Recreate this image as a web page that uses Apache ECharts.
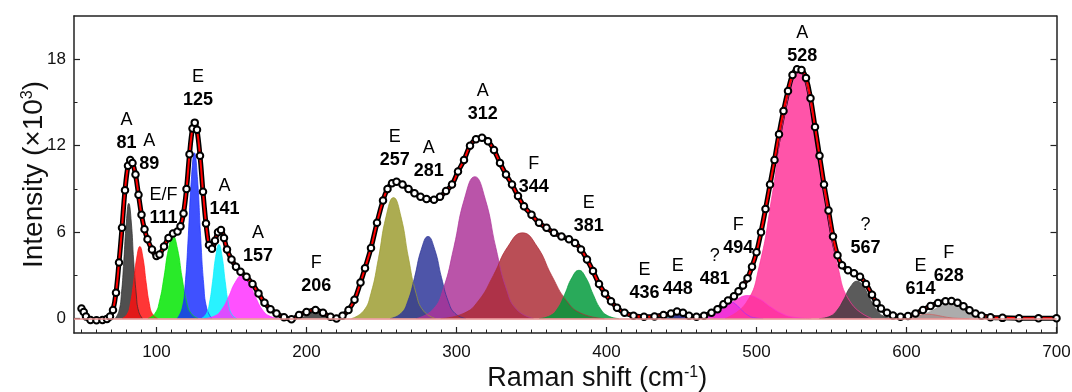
<!DOCTYPE html>
<html>
<head>
<meta charset="utf-8">
<title>Raman spectrum</title>
<script src="https://cdn.jsdelivr.net/npm/echarts@6/dist/echarts.min.js"></script>
<style>
  html, body { margin: 0; padding: 0; background: #fff; }
  #chart { width: 1072px; height: 392px; }
</style>
</head>
<body>
<div id="chart"></div>
<script>
// measured spectrum: [Raman shift (cm-1), intensity (x10^3)]
const measured = [
  [50, 0.7], [51.5, 0.45], [53, 0.15], [56, -0.1], [60, -0.12], [64, -0.1], [67, -0.02], [69, 0.15],
  [71, 0.6], [73, 1.8], [75, 3.9], [77, 6.3], [79, 8.9], [81, 10.6], [82.5, 11.0], [84, 10.8],
  [86, 10.0], [88, 8.6], [90, 7.2], [92, 6.2], [94, 5.5], [97, 4.8], [100, 4.35], [102, 4.45],
  [105, 5.0], [108, 5.6], [111, 5.9], [114, 6.05], [116, 6.4], [118, 7.3], [120, 9.0], [122, 11.4],
  [124, 13.2], [125.5, 13.6], [127, 13.1], [129, 11.3], [131, 8.8], [133, 6.6], [135, 5.1], [137, 4.85],
  [139, 5.4], [141, 6.0], [143, 6.15], [145, 5.6], [147, 4.8], [150, 4.1], [153, 3.6], [156, 3.25],
  [160, 2.9], [164, 2.4], [168, 1.75], [172, 1.1], [176, 0.65], [180, 0.35], [185, 0.1], [190, -0.05],
  [195, 0.25], [200, 0.45], [206, 0.6], [211, 0.4], [216, 0.12], [220, 0.0], [224, 0.2], [228, 0.6],
  [232, 1.3], [236, 2.5], [239, 3.5], [243, 4.9], [247, 6.65], [251, 8.2], [254, 9.0], [257, 9.4],
  [260, 9.5], [264, 9.3], [268, 9.0], [272, 8.7], [276, 8.45], [280, 8.3], [285, 8.25], [289, 8.45],
  [293, 8.85], [297, 9.3], [301, 10.2], [305, 11.0], [309, 12.0], [313, 12.45], [317, 12.55], [321, 12.3],
  [325, 11.7], [329, 10.8], [333, 10.0], [337, 9.3], [341, 8.5], [345, 7.8], [350, 7.2], [355, 6.65],
  [360, 6.3], [365, 5.95], [370, 5.7], [375, 5.5], [379, 5.25], [383, 4.8], [387, 4.1], [391, 3.3],
  [395, 2.4], [399, 1.75], [403, 1.2], [407, 0.75], [412, 0.4], [418, 0.2], [425, 0.12], [432, 0.15],
  [438, 0.25], [443, 0.35], [447, 0.5], [451, 0.4], [455, 0.2], [460, 0.12], [465, 0.2], [470, 0.4],
  [474, 0.65], [478, 1.0], [481, 1.25], [485, 1.55], [488, 1.9], [491, 2.3], [494, 2.8], [497, 3.6],
  [500, 4.6], [503, 6.0], [506, 7.6], [509, 9.3], [512, 11.0], [515, 12.8], [518, 14.4], [521, 15.8],
  [524, 16.9], [527, 17.3], [530, 17.25], [533, 16.7], [536, 15.3], [539, 13.3], [542, 11.3], [545, 9.3],
  [548, 7.5], [551, 5.7], [554, 4.4], [557, 3.7], [561, 3.35], [565, 3.15], [569, 2.9], [573, 2.4],
  [577, 1.65], [580, 1.1], [583, 0.7], [587, 0.4], [591, 0.22], [596, 0.12], [601, 0.18], [606, 0.35],
  [611, 0.6], [616, 0.88], [621, 1.08], [626, 1.2], [630, 1.22], [634, 1.1], [638, 0.85], [642, 0.58],
  [646, 0.35], [650, 0.2], [656, 0.1], [664, 0.05], [675, 0.03], [688, 0.03], [700, 0.03]
];

// fitted bands
const bandShift = [81, 89, 111, 125, 141, 157, 206, 257, 281, 312, 344, 381, 436, 448, 481, 494, 528, 567, 614, 628];
const bandMode = ['A', 'A', 'E/F', 'E', 'A', 'A', 'F', 'E', 'A', 'A', 'F', 'E', 'E', 'E', '?', 'F', 'A', '?', 'E', 'F'];
// where each band's number label sits, in axis units
const labelAt = [
  [80, 12.2], [95.2, 10.7], [104.7, 7.0], [127.7, 15.2], [145.3, 7.57], [167.7, 4.31], [206.5, 2.24],
  [258.9, 11.03], [281.5, 10.27], [317.5, 14.22], [351.5, 9.14], [388.2, 6.41], [425.3, 1.8], [447.5, 2.03],
  [472.2, 2.77], [487.8, 4.92], [530.5, 18.19], [572.7, 4.87], [609.3, 2.03], [628.2, 2.95]
];
// band profiles
const bandProfiles = [
  [[72.3, 0], [74.9, 0.5], [76.6, 1.7], [78.2, 4.0], [79.9, 6.7], [81.5, 8.0], [83.2, 6.7], [84.8, 4.0], [86.5, 1.7], [88.1, 0.5], [90.7, 0]],
  [[77.1, 0], [80.5, 0.31], [82.6, 1.05], [84.7, 2.5], [86.8, 4.2], [88.9, 5.0], [91.0, 4.2], [93.1, 2.5], [95.2, 1.05], [97.3, 0.31], [100.7, 0]],
  [[94.2, 0], [99, 0.36], [102, 1.21], [105, 2.88], [108, 4.84], [111, 5.75], [114, 4.84], [117, 2.88], [120, 1.21], [123, 0.36], [127.8, 0]],
  [[113.8, 0], [117.1, 0.72], [119.15, 2.42], [121.2, 5.75], [123.25, 9.67], [125.3, 11.5], [127.35, 9.67], [129.4, 5.75], [131.45, 2.42], [133.5, 0.72], [136.8, 0]],
  [[129.8, 0], [133.2, 0.32], [135.3, 1.08], [137.4, 2.58], [139.5, 4.33], [141.6, 5.15], [143.7, 4.33], [145.8, 2.58], [147.9, 1.08], [150, 0.32], [153.4, 0]],
  [[131.8, 0], [139, 0.19], [143.5, 0.63], [148, 1.5], [152.5, 2.52], [157, 3.0], [161.5, 2.52], [166, 1.5], [170.5, 0.63], [175, 0.19], [182.2, 0]],
  [[189.2, 0], [194, 0.03], [197, 0.09], [200, 0.22], [203, 0.38], [206, 0.45], [209, 0.38], [212, 0.22], [215, 0.09], [218, 0.03], [222.8, 0]],
  [[230, 0], [238, 0.53], [243, 1.76], [248, 4.2], [253, 7.06], [258, 8.4], [263, 7.06], [268, 4.2], [273, 1.76], [278, 0.53], [286, 0]],
  [[255.8, 0], [263, 0.36], [267.5, 1.2], [272, 2.85], [276.5, 4.79], [281, 5.7], [285.5, 4.79], [290, 2.85], [294.5, 1.2], [299, 0.36], [306.2, 0]],
  [[273, 0], [284.2, 0.62], [291.2, 2.07], [298.2, 4.93], [305.2, 8.28], [312.2, 9.85], [319.2, 8.28], [326.2, 4.93], [333.2, 2.07], [340.2, 0.62], [351.4, 0]],
  [[289.4, 0], [305, 0.37], [314.75, 1.25], [324.5, 2.98], [334.25, 5.0], [344, 5.95], [353.75, 5.0], [363.5, 2.98], [373.25, 1.25], [383, 0.37], [398.6, 0]],
  [[355, 0], [362.6, 0.21], [367.35, 0.7], [372.1, 1.68], [376.85, 2.82], [381.6, 3.35], [386.35, 2.82], [391.1, 1.68], [395.85, 0.7], [400.6, 0.21], [408.2, 0]],
  [[419.2, 0], [424, 0.01], [427, 0.03], [430, 0.06], [433, 0.1], [436, 0.12], [439, 0.1], [442, 0.06], [445, 0.03], [448, 0.01], [452.8, 0]],
  [[436.8, 0], [440, 0.02], [442, 0.06], [444, 0.15], [446, 0.25], [448, 0.3], [450, 0.25], [452, 0.15], [454, 0.06], [456, 0.02], [459.2, 0]],
  [[459.6, 0], [466, 0.07], [470, 0.25], [474, 0.6], [478, 1.0], [482, 1.2], [486, 1.0], [490, 0.6], [494, 0.25], [498, 0.07], [504.4, 0]],
  [[452.5, 0], [464.5, 0.1], [472, 0.34], [479.5, 0.8], [487, 1.35], [494.5, 1.6], [502, 1.35], [509.5, 0.8], [517, 0.34], [524.5, 0.1], [536.5, 0]],
  [[479, 0], [493, 1.08], [501.75, 3.61], [510.5, 8.6], [519.25, 14.47], [528, 17.2], [536.75, 14.47], [545.5, 8.6], [554.25, 3.61], [563, 1.08], [577, 0]],
  [[541.8, 0], [549, 0.16], [553.5, 0.55], [558, 1.3], [562.5, 2.19], [567, 2.6], [571.5, 2.19], [576, 1.3], [580.5, 0.55], [585, 0.16], [592.2, 0]],
  [[586, 0], [594, 0.02], [599, 0.06], [604, 0.15], [609, 0.25], [614, 0.3], [619, 0.25], [624, 0.15], [629, 0.06], [634, 0.02], [642, 0]],
  [[592.6, 0], [603, 0.06], [609.5, 0.21], [616, 0.5], [622.5, 0.84], [629, 1.0], [635.5, 0.84], [642, 0.5], [648.5, 0.21], [655, 0.06], [665.4, 0]]
];

const xMajor = [100, 200, 300, 400, 500, 600, 700];
const yMajor = [0, 6, 12, 18];
const yMinor = [3, 9, 15];
const xMinor = [];
for (let v = 50; v < 700; v += 10) {
  if (v % 100 !== 0) xMinor.push(v);
}

const bandColors = [
  '#2e2e2e', '#ff1010', '#00e600', '#1a30ff', '#00f0ff', '#ff30ff', '#333333', '#9c9c30', '#2c3498', '#ad3399',
  '#ad2c36', '#009a3a', '#006060', '#10107a', '#9a30ff', '#ff30d0', '#ff3399', '#3c3c3c', '#d05a5a', '#9c9c9c'
];
const font = 'Liberation Sans, Arial, sans-serif';
const axisColor = '#222';

const chart = echarts.init(document.getElementById('chart'));

const frame = (extra) => Object.assign({
  type: 'value',
  axisLine: { show: false, onZero: false },
  axisTick: { show: false },
  axisLabel: { show: false },
  splitLine: { show: false }
}, extra);

const bandSeries = bandProfiles.map((pts, i) => ({
  name: 'band ' + bandShift[i],
  type: 'line',
  data: pts,
  smooth: 0.5,
  symbol: 'none',
  silent: true,
  lineStyle: { color: bandColors[i], width: 0.8, opacity: 0.9 },
  areaStyle: { color: bandColors[i], opacity: 0.84 }
}));

const supStyle = { fontSize: 16, verticalAlign: 'top', padding: [0, 0, 12, 0], fontFamily: font, color: '#111' };

chart.setOption({
  animation: false,
  grid: { left: 74, right: 15.5, top: 16, bottom: 59, outerBoundsMode: 'none' },
  xAxis: [
    frame({
      min: 45, max: 700, position: 'bottom',
      axisLine: { show: true, onZero: false, lineStyle: { color: axisColor, width: 1.5 } },
      axisTick: { show: true, inside: true, length: 6, customValues: xMajor, lineStyle: { color: axisColor, width: 1.2 } },
      axisLabel: { show: true, customValues: xMajor, fontSize: 17, color: '#111', margin: 11, fontFamily: font },
      name: 'Raman shift (cm{sup|-1})',
      nameLocation: 'middle',
      nameGap: 32,
      nameMoveOverlap: false,
      nameTextStyle: {
        fontSize: 27, color: '#111', fontFamily: font, padding: [0, 0, 0, 64],
        rich: { sup: supStyle }
      }
    }),
    frame({
      min: 45, max: 700, position: 'bottom',
      axisTick: { show: true, inside: true, length: 3.5, customValues: xMinor, lineStyle: { color: axisColor, width: 1 } }
    }),
    frame({
      min: 45, max: 700, position: 'top',
      axisLine: { show: true, onZero: false, lineStyle: { color: axisColor, width: 1.5 } }
    })
  ],
  yAxis: [
    frame({
      min: -1, max: 21, position: 'left',
      axisLine: { show: true, onZero: false, lineStyle: { color: axisColor, width: 1.5 } },
      axisTick: { show: true, inside: true, length: 6, customValues: yMajor, lineStyle: { color: axisColor, width: 1.2 } },
      axisLabel: { show: true, customValues: yMajor, fontSize: 17, color: '#111', margin: 8, fontFamily: font },
      name: 'Intensity (\u00d710{sup|3})',
      nameLocation: 'middle',
      nameGap: 26,
      nameMoveOverlap: false,
      nameTextStyle: {
        fontSize: 28, color: '#111', fontFamily: font,
        rich: { sup: supStyle }
      }
    }),
    frame({
      min: -1, max: 21, position: 'left',
      axisTick: { show: true, inside: true, length: 3.5, customValues: yMinor, lineStyle: { color: axisColor, width: 1 } }
    }),
    frame({
      min: -1, max: 21, position: 'right',
      axisLine: { show: true, onZero: false, lineStyle: { color: axisColor, width: 1.5 } },
      axisTick: { show: true, inside: true, length: 6, customValues: yMajor, lineStyle: { color: axisColor, width: 1.2 } }
    }),
    frame({
      min: -1, max: 21, position: 'right',
      axisTick: { show: true, inside: true, length: 3.5, customValues: yMinor, lineStyle: { color: axisColor, width: 1 } }
    })
  ],
  series: [
    {
      name: 'measured',
      type: 'line',
      data: measured,
      smooth: 0.4,
      symbol: 'emptyCircle',
      symbolSize: 6.5,
      showAllSymbol: true,
      silent: true,
      lineStyle: { color: '#000', width: 5 },
      itemStyle: { color: '#000', borderWidth: 1.6 }
    },
    ...bandSeries,
    {
      name: 'fit',
      type: 'line',
      data: measured,
      smooth: 0.4,
      symbol: 'none',
      silent: true,
      lineStyle: { color: '#ff0000', width: 2 },
      markLine: {
        silent: true,
        symbol: ['none', 'none'],
        label: { show: false },
        lineStyle: { color: '#e89090', width: 1.5, type: 'solid' },
        data: [{ yAxis: 0 }]
      }
    },
    {
      name: 'labels',
      type: 'scatter',
      data: labelAt,
      symbolSize: 1,
      silent: true,
      itemStyle: { color: 'transparent', opacity: 1 },
      z: 10,
      label: {
        show: true,
        position: 'inside',
        offset: [0, -11.5],
        color: '#000',
        textBorderWidth: 0,
        formatter: (p) => '{m|' + bandMode[p.dataIndex] + '}\n{n|' + bandShift[p.dataIndex] + '}',
        rich: {
          m: { fontSize: 18, lineHeight: 23, color: '#000', fontFamily: font, textBorderWidth: 0 },
          n: { fontSize: 18, lineHeight: 23, color: '#000', fontWeight: 'bold', fontFamily: font, textBorderWidth: 0 }
        }
      }
    }
  ]
});
</script>
</body>
</html>
